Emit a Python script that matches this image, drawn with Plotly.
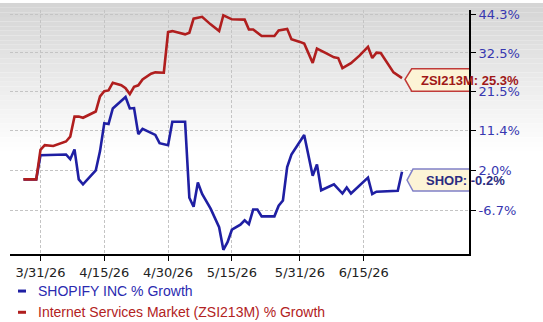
import numpy as np
import plotly.graph_objects as go

# ---------------- data ----------------
shop_dates = ["2026-03-27", "2026-03-30", "2026-03-31", "2026-04-06", "2026-04-07", "2026-04-08",
              "2026-04-09", "2026-04-10", "2026-04-13", "2026-04-14", "2026-04-15", "2026-04-16",
              "2026-04-17", "2026-04-20", "2026-04-21", "2026-04-22", "2026-04-23", "2026-04-24",
              "2026-04-27", "2026-04-28", "2026-04-30", "2026-05-01", "2026-05-04", "2026-05-05",
              "2026-05-06", "2026-05-07", "2026-05-08", "2026-05-10", "2026-05-12", "2026-05-13",
              "2026-05-14", "2026-05-15", "2026-05-17", "2026-05-18", "2026-05-19", "2026-05-20",
              "2026-05-21", "2026-05-22", "2026-05-25", "2026-05-26", "2026-05-27", "2026-05-28",
              "2026-05-29", "2026-06-01", "2026-06-03", "2026-06-04", "2026-06-05", "2026-06-08",
              "2026-06-10", "2026-06-11", "2026-06-12", "2026-06-16", "2026-06-17", "2026-06-18",
              "2026-06-23", "2026-06-24"]
shop_growth = [0.0, 0.0, 5.5, 5.7, 4.6, 6.9,
               0.0, -1.1, 2.0, 6.5, 13.3, 13.1,
               17.1, 20.1, 17.1, 17.2, 10.6, 11.9,
               10.4, 8.4, 7.9, 13.7, 13.7, -4.0,
               -5.9, -0.7, -3.2, -6.3, -10.1, -14.5,
               -13.0, -10.6, -9.6, -8.7, -9.5, -6.5,
               -6.5, -7.9, -7.9, -5.7, -4.6, 2.8,
               5.7, 10.4, 0.8, 3.4, -2.4, -1.1,
               -3.1, -1.8, -3.1, 0.4, -3.2, -2.7,
               -2.5, 1.7]

zsi_dates = ["2026-03-27", "2026-03-30", "2026-03-31", "2026-04-01", "2026-04-03", "2026-04-06",
             "2026-04-07", "2026-04-08", "2026-04-09", "2026-04-10", "2026-04-13", "2026-04-14",
             "2026-04-15", "2026-04-16", "2026-04-17", "2026-04-19", "2026-04-20", "2026-04-21",
             "2026-04-22", "2026-04-23", "2026-04-24", "2026-04-26", "2026-04-27", "2026-04-29",
             "2026-04-30", "2026-05-01", "2026-05-04", "2026-05-05", "2026-05-06", "2026-05-08",
             "2026-05-10", "2026-05-12", "2026-05-13", "2026-05-15", "2026-05-18", "2026-05-19",
             "2026-05-20", "2026-05-22", "2026-05-25", "2026-05-26", "2026-05-28", "2026-05-29",
             "2026-05-31", "2026-06-01", "2026-06-03", "2026-06-04", "2026-06-06", "2026-06-08",
             "2026-06-09", "2026-06-10", "2026-06-12", "2026-06-14", "2026-06-16", "2026-06-17",
             "2026-06-18", "2026-06-19", "2026-06-22", "2026-06-24"]
zsi_growth = [0.0, 0.0, 6.8, 7.9, 7.7, 8.8,
              10.0, 15.0, 15.0, 14.7, 16.3, 20.3,
              21.7, 21.9, 24.0, 23.3, 22.5, 20.9,
              22.9, 23.3, 24.9, 26.5, 26.9, 26.8,
              38.8, 39.1, 38.1, 38.6, 43.0, 43.6,
              41.2, 39.1, 44.1, 42.8, 42.7, 39.6,
              39.6, 37.6, 37.6, 39.3, 39.8, 36.6,
              35.8, 35.3, 29.6, 33.8, 32.5, 31.2,
              31.0, 28.1, 29.5, 31.7, 34.3, 31.0,
              32.6, 32.5, 26.9, 25.3]

y_tick_pct = [44.3, 32.5, 21.5, 11.4, 2.0, -6.7]
y_tick_text = ["44.3%", "32.5%", "21.5%", "11.4%", "2.0%", "-6.7%"]
x_tick_dates = ["2026-03-31", "2026-04-15", "2026-04-30", "2026-05-15", "2026-05-31", "2026-06-15"]
x_tick_text = ["3/31/26", "4/15/26", "4/30/26", "5/15/26", "5/31/26", "6/15/26"]

shop_name = "SHOPIFY INC % Growth"
zsi_name = "Internet Services Market (ZSI213M) % Growth"
shop_label = "SHOP: -0.2%"
zsi_label = "ZSI213M: 25.3%"

# ---------------- styling ----------------
W, H = 543, 322
ML, MR, MT, MB = 10, 74, 7, 68
PW, PH = W - ML - MR, H - MT - MB
BLUE = "#1f1fa3"
RED = "#b01e1e"


def lg(p):
    return np.log1p(np.asarray(p, dtype=float) / 100.0)


def px_x(p):
    return (p - ML) / PW


def px_y(p):
    return (H - MB - p) / PH


fig = go.Figure()
fig.add_trace(go.Scatter(x=shop_dates, y=lg(shop_growth), mode="lines", name=shop_name,
                         line=dict(color=BLUE, width=2.6), showlegend=False))
fig.add_trace(go.Scatter(x=zsi_dates, y=lg(zsi_growth), mode="lines", name=zsi_name,
                         line=dict(color=RED, width=2.6), showlegend=False))

shapes = []
# background gradient (top grey fading to white)
nb = 32
top, bot = 0.0, 150.0
for i in range(nb):
    a = top + (bot - top) * i / nb
    b = top + (bot - top) * (i + 1) / nb
    t = (i + 0.5) / nb
    g = int(round(212 + (255 - 212) * t))
    shapes.append(dict(type="rect", xref="paper", yref="paper", layer="below",
                       x0=px_x(0), x1=px_x(W), y0=px_y(b), y1=px_y(a),
                       fillcolor=f"rgb({g},{g},{g})", line=dict(width=0)))

# callout labels
shapes.append(dict(type="path", xref="x", yref="y", xsizemode="pixel", ysizemode="pixel",
                   xanchor=zsi_dates[-1], yanchor=float(lg([zsi_growth[-1]])[0]), layer="above",
                   path="M 3,-1.4 L 9.7,9.2 L 129.7,9.2 L 129.7,-13.1 L 9.7,-13.1 Z",
                   fillcolor="#fcf4d6", line=dict(color="#c03a3a", width=1.5)))
shapes.append(dict(type="path", xref="x", yref="y", xsizemode="pixel", ysizemode="pixel",
                   xanchor=shop_dates[-1], yanchor=float(lg([shop_growth[-1]])[0]), layer="above",
                   path="M 5,-8.3 L 11,2.7 L 114.7,2.7 L 114.7,-19.3 L 11,-19.3 Z",
                   fillcolor="#fcf4d6", line=dict(color="#8080c8", width=1.5)))

# legend dashes
for yy, col in [(291.5, BLUE), (313, RED)]:
    shapes.append(dict(type="line", xref="paper", yref="paper",
                       x0=px_x(18), x1=px_x(26), y0=px_y(yy), y1=px_y(yy),
                       line=dict(color=col, width=3)))

annotations = [
    dict(x=zsi_dates[-1], y=float(lg([zsi_growth[-1]])[0]), xref="x", yref="y",
         text=f"<b>{zsi_label}</b>", showarrow=False, xshift=68, yshift=-2,
         font=dict(family="Liberation Sans", size=13, color="#a01818")),
    dict(x=shop_dates[-1], y=float(lg([shop_growth[-1]])[0]), xref="x", yref="y",
         text=f"<b>{shop_label}</b>", showarrow=False, xshift=63, yshift=-8.3,
         font=dict(family="Liberation Sans", size=13, color="#2b2b80")),
    dict(x=px_x(36), y=px_y(291.5), xref="paper", yref="paper", xanchor="left", yanchor="middle",
         text=shop_name, showarrow=False,
         font=dict(family="Liberation Sans", size=14, color="#2a2ab0")),
    dict(x=px_x(36), y=px_y(313), xref="paper", yref="paper", xanchor="left", yanchor="middle",
         text=zsi_name, showarrow=False,
         font=dict(family="Liberation Sans", size=14, color="#b22222")),
]

fig.update_layout(
    width=W, height=H,
    margin=dict(l=ML, r=MR, t=MT, b=MB),
    paper_bgcolor="white", plot_bgcolor="rgba(0,0,0,0)",
    shapes=shapes, annotations=annotations, showlegend=False,
    xaxis=dict(type="date", range=["2026-03-23 20:00", "2026-07-09 18:00"],
               tickvals=x_tick_dates, ticktext=x_tick_text,
               showline=True, linecolor="black", linewidth=2, mirror=False,
               ticks="outside", ticklen=5, tickcolor="black", tickwidth=1,
               showgrid=True, gridcolor="#c4c4c4", griddash="3px,2px", gridwidth=1,
               zeroline=False,
               tickfont=dict(family="DejaVu Sans", size=13, color="#222222")),
    yaxis=dict(side="right", range=[-0.1661, 0.3770],
               tickvals=list(lg(y_tick_pct)), ticktext=y_tick_text,
               showline=True, linecolor="black", linewidth=2,
               ticks="outside", ticklen=5, tickcolor="black", tickwidth=1,
               showgrid=True, gridcolor="#c4c4c4", griddash="3px,2px", gridwidth=1,
               zeroline=False,
               tickfont=dict(family="DejaVu Sans", size=13, color="#3737b0")),
)

fig.write_html("out.html")
